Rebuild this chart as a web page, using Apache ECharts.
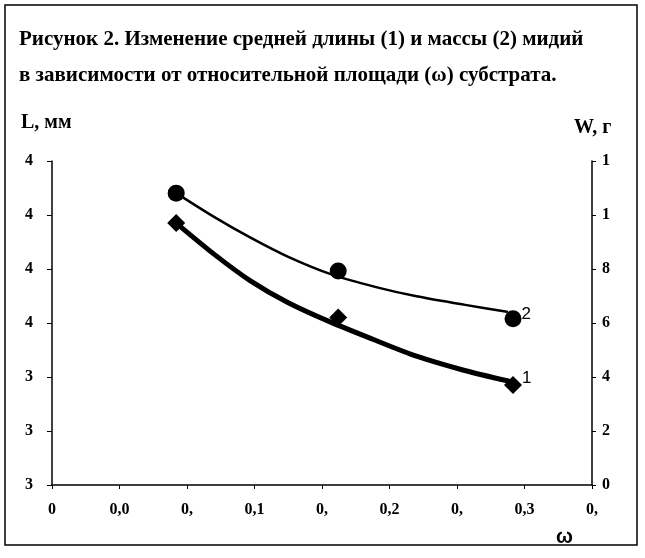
<!DOCTYPE html>
<html><head><meta charset="utf-8">
<script src="https://cdn.jsdelivr.net/npm/echarts@6/dist/echarts.min.js"></script>
<style>html,body{margin:0;padding:0;background:#fff}#c{width:645px;height:558px}</style>
</head><body><div id="c"></div>
<script>
// ---- data ----
const titleLines = ['Рисунок 2. Изменение средней длины (1) и массы (2) мидий', 'в зависимости от относительной площади (ω) субстрата.'];
const xTickLabels = ['0', '0,0', '0,', '0,1', '0,', '0,2', '0,', '0,3', '0,'];
const leftTickLabels = ['3', '3', '3', '4', '4', '4', '4'];
const rightTickLabels = ['0', '2', '4', '6', '8', '1', '1'];
const omega = [0.092, 0.212, 0.3415];
const lengthL = [3.97, 3.62, 3.37];      // series 1, L, мм (diamonds)
const massW = [10.81, 7.93, 6.16];       // series 2, W, г (circles)
// trend curves
const trendOmega1 = [0.092, 0.12, 0.1467, 0.175, 0.206, 0.240, 0.270, 0.305, 0.338];
const trendL = [3.97, 3.855, 3.757, 3.675, 3.604, 3.535, 3.477, 3.425, 3.385];
const trendOmega2 = [0.092, 0.12, 0.1467, 0.175, 0.208, 0.240, 0.270, 0.305, 0.337];
const trendW = [10.81, 9.93, 9.17, 8.45, 7.78, 7.33, 6.99, 6.68, 6.42];

const pairs = (xs, ys) => xs.map((x, i) => [x, ys[i]]);
const serif = '"Liberation Serif", "DejaVu Serif", serif';
const sans = '"Liberation Sans", Arial, sans-serif';

const chart = echarts.init(document.getElementById('c'), null, {renderer: 'canvas'});
const lastIdx = omega.length - 1;
chart.setOption({
  animation: false,
  backgroundColor: '#fff',
  grid: {left: 52, right: 53, top: 161, bottom: 73},
  graphic: [
    {type: 'rect', shape: {x: 5, y: 5, width: 632, height: 540}, style: {fill: 'none', stroke: '#000', lineWidth: 1.5}},
    {type: 'text', left: 19, top: 29, style: {text: titleLines[0], font: 'bold 21px ' + serif, fill: '#000'}},
    {type: 'text', left: 19, top: 65, style: {text: titleLines[1], font: 'bold 21px ' + serif, fill: '#000'}},
    {type: 'text', left: 21, top: 113, style: {text: 'L, мм', font: 'bold 20px ' + serif, fill: '#000'}},
    {type: 'text', left: 574, top: 118, style: {text: 'W, г', font: 'bold 20px ' + serif, fill: '#000'}},
    {type: 'text', left: 556, top: 527, style: {text: 'ω', font: 'bold 20px ' + sans, fill: '#000'}}
  ],
  xAxis: {
    type: 'value', min: 0, max: 0.4, interval: 0.05,
    axisLine: {show: true, onZero: false, lineStyle: {color: '#000', width: 1.5}},
    axisTick: {show: true, length: 4, lineStyle: {color: '#000', width: 1}},
    splitLine: {show: false},
    axisLabel: {
      margin: 17, color: '#000', fontFamily: serif, fontWeight: 'bold', fontSize: 16,
      formatter: v => xTickLabels[Math.round(v / 0.05)]
    }
  },
  yAxis: [
    {
      type: 'value', min: 3.0, max: 4.2, interval: 0.2, position: 'left',
      axisLine: {show: true, lineStyle: {color: '#000', width: 1.5}},
      axisTick: {show: true, length: 5, lineStyle: {color: '#000', width: 1}},
      splitLine: {show: false},
      axisLabel: {
        margin: 19, color: '#000', fontFamily: serif, fontWeight: 'bold', fontSize: 16,
        formatter: v => leftTickLabels[Math.round((v - 3.0) / 0.2)]
      }
    },
    {
      type: 'value', min: 0, max: 12, interval: 2, position: 'right',
      axisLine: {show: true, lineStyle: {color: '#000', width: 1.5}},
      axisTick: {show: true, length: 4, lineStyle: {color: '#000', width: 1}},
      splitLine: {show: false},
      axisLabel: {
        margin: 10, color: '#000', fontFamily: serif, fontWeight: 'bold', fontSize: 16,
        formatter: v => rightTickLabels[Math.round(v / 2)]
      }
    }
  ],
  series: [
    {
      type: 'line', yAxisIndex: 0, data: pairs(trendOmega1, trendL), smooth: 0.25,
      showSymbol: false, lineStyle: {color: '#000', width: 5, cap: 'round', join: 'round'}, z: 2
    },
    {
      type: 'line', yAxisIndex: 1, data: pairs(trendOmega2, trendW), smooth: 0.25,
      showSymbol: false, lineStyle: {color: '#000', width: 2.5, cap: 'round', join: 'round'}, z: 2
    },
    {
      type: 'scatter', yAxisIndex: 0, symbol: 'diamond', symbolSize: 18,
      itemStyle: {color: '#000', opacity: 1}, z: 3,
      data: pairs(omega, lengthL).map((p, i) => i === lastIdx ? {value: p, label: {show: true, formatter: '1', position: [18, -6], color: '#000', fontSize: 17, fontFamily: sans}} : p)
    },
    {
      type: 'scatter', yAxisIndex: 1, symbol: 'circle', symbolSize: 17,
      itemStyle: {color: '#000', opacity: 1}, z: 3,
      data: pairs(omega, massW).map((p, i) => i === lastIdx ? {value: p, label: {show: true, formatter: '2', position: [17, -4], color: '#000', fontSize: 17, fontFamily: sans}} : p)
    }
  ]
});
</script></body></html>
